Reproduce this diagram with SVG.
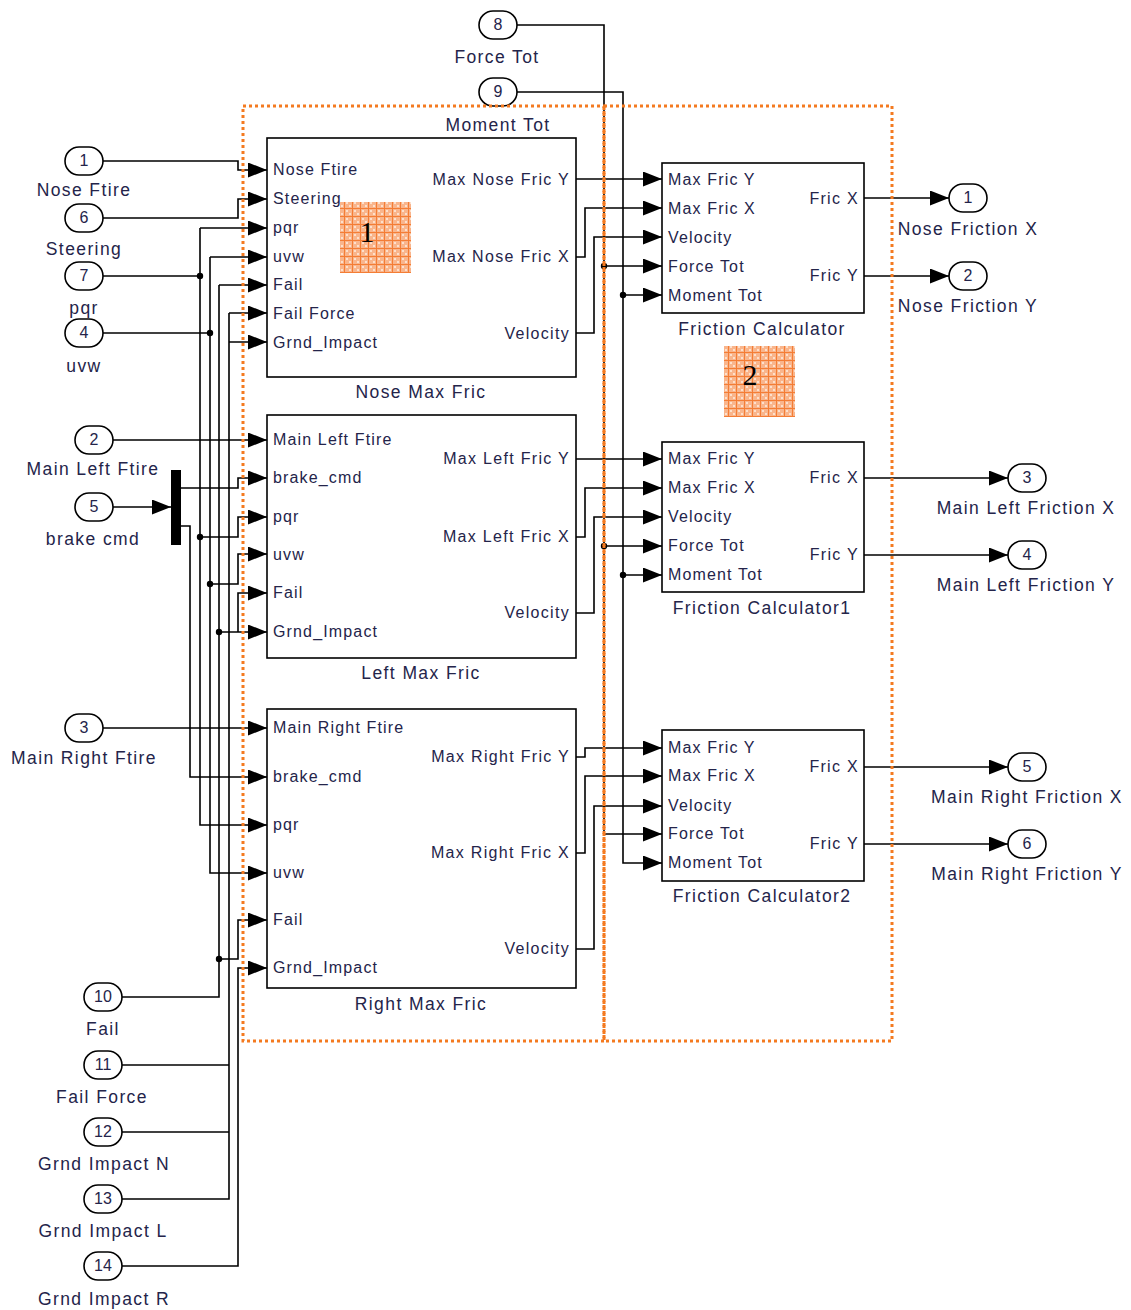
<svg xmlns="http://www.w3.org/2000/svg" width="1131" height="1310" viewBox="0 0 1131 1310">
<defs>
<marker id="arr" markerUnits="userSpaceOnUse" markerWidth="19" markerHeight="15" refX="19" refY="7.5" orient="auto">
<path d="M0,0 L19,7.5 L0,15 z" fill="#000"/>
</marker>
<pattern id="hatch" patternUnits="userSpaceOnUse" width="8" height="8">
<rect width="8" height="8" fill="#f9b58c"/>
<rect x="2" y="2" width="2" height="2" fill="#fde0cc"/>
<rect x="5" y="5" width="2" height="2" fill="#fde0cc"/>
<path d="M0,0.5 H8 M0.5,0 V8" stroke="#f47d35" stroke-width="1"/>
</pattern>
<style>
.w{fill:none;stroke:#000;stroke-width:1.6}
.a{marker-end:url(#arr)}
.blk{fill:#fff;stroke:#000;stroke-width:1.6}
.port{fill:#fff;stroke:#000;stroke-width:1.6}
.dot{fill:#000}
text{font-family:"Liberation Sans",Arial,sans-serif;fill:#24244a}
.lbl{font-size:17.5px;letter-spacing:1.4px;text-anchor:middle}
.in{font-size:16px;letter-spacing:1.15px}
.out{font-size:16px;letter-spacing:1.3px;text-anchor:end}
.num{font-size:16px;text-anchor:middle}
.big{font-family:"Liberation Serif","Times New Roman",serif;font-size:30px;text-anchor:middle;fill:#000}
.dash{fill:none;stroke:#f47a20;stroke-width:3;stroke-dasharray:3 3}
</style>
</defs>
<rect width="1131" height="1310" fill="#fff"/>

<g id="connectors">
<path class="w a" d="M103,161 H238 V170 H267"/>
<path class="w a" d="M103,218 H238 V199 H267"/>
<path class="w a" d="M200,228 H267"/>
<path class="w a" d="M210,257 H267"/>
<path class="w a" d="M219,285 H267"/>
<path class="w a" d="M229,313 H267"/>
<path class="w a" d="M229,342 H267"/>
<path class="w" d="M103,276 H200"/>
<path class="w" d="M103,333 H210"/>
<path class="w a" d="M200,228 V825 H267"/>
<path class="w a" d="M210,257 V873 H267"/>
<path class="w" d="M122,997 H219 V285"/>
<path class="w" d="M122,1199 H229 V313"/>
<path class="w" d="M122,1065 H229"/>
<path class="w" d="M122,1132 H229"/>
<path class="w a" d="M122,1266 H238 V968 H267"/>
<path class="w a" d="M113,440 H267"/>
<path class="w a" d="M113,507 H171"/>
<path class="w a" d="M181,488 H238 V478 H267"/>
<path class="w a" d="M181,526 H190 V777 H267"/>
<path class="w a" d="M200,537 H238 V517 H267"/>
<path class="w a" d="M210,584 H238 V554 H267"/>
<path class="w a" d="M219,632 H267"/>
<path class="w a" d="M238,632 V593 H267"/>
<path class="w a" d="M103,728 H267"/>
<path class="w a" d="M219,959 H238 V920 H267"/>
<path class="w a" d="M576,179 H662"/>
<path class="w a" d="M576,257 H585 V208 H662"/>
<path class="w a" d="M576,333 H594 V237 H662"/>
<path class="w a" d="M576,459 H662"/>
<path class="w a" d="M576,537 H585 V488 H662"/>
<path class="w a" d="M576,613 H594 V517 H662"/>
<path class="w a" d="M576,757 H585 V748 H662"/>
<path class="w a" d="M576,853 H585 V776 H662"/>
<path class="w a" d="M576,949 H594 V806 H662"/>
<path class="w a" d="M517,25 H604 V834 H662"/>
<path class="w a" d="M604,266 H662"/>
<path class="w a" d="M604,546 H662"/>
<path class="w a" d="M517,92 H623 V863 H662"/>
<path class="w a" d="M623,295 H662"/>
<path class="w a" d="M623,575 H662"/>
<path class="w a" d="M864,198 H949"/>
<path class="w a" d="M864,276 H949"/>
<path class="w a" d="M864,478 H1008"/>
<path class="w a" d="M864,555 H1008"/>
<path class="w a" d="M864,767 H1008"/>
<path class="w a" d="M864,844 H1008"/>
<circle class="dot" cx="200" cy="276" r="3.2"/>
<circle class="dot" cx="210" cy="333" r="3.2"/>
<circle class="dot" cx="200" cy="537" r="3.2"/>
<circle class="dot" cx="210" cy="584" r="3.2"/>
<circle class="dot" cx="219" cy="632" r="3.2"/>
<circle class="dot" cx="219" cy="959" r="3.2"/>
<circle class="dot" cx="604" cy="266" r="3.2"/>
<circle class="dot" cx="604" cy="546" r="3.2"/>
<circle class="dot" cx="623" cy="295" r="3.2"/>
<circle class="dot" cx="623" cy="575" r="3.2"/>
</g>

<g id="in1"><rect class="port" x="65" y="147" width="38" height="28" rx="14"/><text class="num" x="84" y="166">1</text><text class="lbl" x="84" y="196">Nose Ftire</text></g>
<g id="in6"><rect class="port" x="65" y="204" width="38" height="28" rx="14"/><text class="num" x="84" y="223">6</text><text class="lbl" x="84" y="255">Steering</text></g>
<g id="in7"><rect class="port" x="65" y="262" width="38" height="28" rx="14"/><text class="num" x="84" y="281">7</text><text class="lbl" x="84" y="314">pqr</text></g>
<g id="in4"><rect class="port" x="65" y="319" width="38" height="28" rx="14"/><text class="num" x="84" y="338">4</text><text class="lbl" x="84" y="372">uvw</text></g>
<g id="in2"><rect class="port" x="75" y="426" width="38" height="28" rx="14"/><text class="num" x="94" y="445">2</text><text class="lbl" x="93" y="475">Main Left Ftire</text></g>
<g id="in5"><rect class="port" x="75" y="493" width="38" height="28" rx="14"/><text class="num" x="94" y="512">5</text><text class="lbl" x="93" y="545">brake cmd</text></g>
<g id="mux"><rect x="171" y="470" width="10" height="75" fill="#000"/></g>
<g id="in3"><rect class="port" x="65" y="714" width="38" height="28" rx="14"/><text class="num" x="84" y="733">3</text><text class="lbl" x="84" y="764">Main Right Ftire</text></g>
<g id="in10"><rect class="port" x="84" y="983" width="38" height="28" rx="14"/><text class="num" x="103" y="1002">10</text><text class="lbl" x="103" y="1035">Fail</text></g>
<g id="in11"><rect class="port" x="84" y="1051" width="38" height="28" rx="14"/><text class="num" x="103" y="1070">11</text><text class="lbl" x="102" y="1103">Fail Force</text></g>
<g id="in12"><rect class="port" x="84" y="1118" width="38" height="28" rx="14"/><text class="num" x="103" y="1137">12</text><text class="lbl" x="104" y="1170">Grnd Impact N</text></g>
<g id="in13"><rect class="port" x="84" y="1185" width="38" height="28" rx="14"/><text class="num" x="103" y="1204">13</text><text class="lbl" x="103" y="1237">Grnd Impact L</text></g>
<g id="in14"><rect class="port" x="84" y="1252" width="38" height="28" rx="14"/><text class="num" x="103" y="1271">14</text><text class="lbl" x="104" y="1305">Grnd Impact R</text></g>
<g id="in8"><rect class="port" x="479" y="11" width="38" height="28" rx="14"/><text class="num" x="498" y="30">8</text><text class="lbl" x="497" y="63">Force Tot</text></g>
<g id="in9"><rect class="port" x="479" y="78" width="38" height="28" rx="14"/><text class="num" x="498" y="97">9</text><text class="lbl" x="498" y="131">Moment Tot</text></g>

<g id="noseMaxFric">
<rect class="blk" x="267" y="138" width="309" height="239"/>
<text class="in" x="273" y="175">Nose Ftire</text>
<text class="in" x="273" y="204">Steering</text>
<text class="in" x="273" y="233">pqr</text>
<text class="in" x="273" y="262">uvw</text>
<text class="in" x="273" y="290">Fail</text>
<text class="in" x="273" y="319">Fail Force</text>
<text class="in" x="273" y="348">Grnd_Impact</text>
<text class="out" x="570" y="185">Max Nose Fric Y</text>
<text class="out" x="570" y="262">Max Nose Fric X</text>
<text class="out" x="570" y="339">Velocity</text>
<text class="lbl" x="421" y="398">Nose Max Fric</text>
</g>
<g id="leftMaxFric">
<rect class="blk" x="267" y="415" width="309" height="243"/>
<text class="in" x="273" y="445">Main Left Ftire</text>
<text class="in" x="273" y="483">brake_cmd</text>
<text class="in" x="273" y="522">pqr</text>
<text class="in" x="273" y="560">uvw</text>
<text class="in" x="273" y="598">Fail</text>
<text class="in" x="273" y="637">Grnd_Impact</text>
<text class="out" x="570" y="464">Max Left Fric Y</text>
<text class="out" x="570" y="542">Max Left Fric X</text>
<text class="out" x="570" y="618">Velocity</text>
<text class="lbl" x="421" y="679">Left Max Fric</text>
</g>
<g id="rightMaxFric">
<rect class="blk" x="267" y="709" width="309" height="279"/>
<text class="in" x="273" y="733">Main Right Ftire</text>
<text class="in" x="273" y="782">brake_cmd</text>
<text class="in" x="273" y="830">pqr</text>
<text class="in" x="273" y="878">uvw</text>
<text class="in" x="273" y="925">Fail</text>
<text class="in" x="273" y="973">Grnd_Impact</text>
<text class="out" x="570" y="762">Max Right Fric Y</text>
<text class="out" x="570" y="858">Max Right Fric X</text>
<text class="out" x="570" y="954">Velocity</text>
<text class="lbl" x="421" y="1010">Right Max Fric</text>
</g>

<g id="fricCalc">
<rect class="blk" x="662" y="163" width="202" height="150"/>
<text class="in" x="668" y="185">Max Fric Y</text>
<text class="in" x="668" y="214">Max Fric X</text>
<text class="in" x="668" y="243">Velocity</text>
<text class="in" x="668" y="272">Force Tot</text>
<text class="in" x="668" y="301">Moment Tot</text>
<text class="out" x="859" y="204">Fric X</text>
<text class="out" x="859" y="281">Fric Y</text>
<text class="lbl" x="762" y="335">Friction Calculator</text>
</g>
<g id="fricCalc1">
<rect class="blk" x="662" y="442" width="202" height="150"/>
<text class="in" x="668" y="464">Max Fric Y</text>
<text class="in" x="668" y="493">Max Fric X</text>
<text class="in" x="668" y="522">Velocity</text>
<text class="in" x="668" y="551">Force Tot</text>
<text class="in" x="668" y="580">Moment Tot</text>
<text class="out" x="859" y="483">Fric X</text>
<text class="out" x="859" y="560">Fric Y</text>
<text class="lbl" x="762" y="614">Friction Calculator1</text>
</g>
<g id="fricCalc2">
<rect class="blk" x="662" y="730" width="202" height="151"/>
<text class="in" x="668" y="753">Max Fric Y</text>
<text class="in" x="668" y="781">Max Fric X</text>
<text class="in" x="668" y="811">Velocity</text>
<text class="in" x="668" y="839">Force Tot</text>
<text class="in" x="668" y="868">Moment Tot</text>
<text class="out" x="859" y="772">Fric X</text>
<text class="out" x="859" y="849">Fric Y</text>
<text class="lbl" x="762" y="902">Friction Calculator2</text>
</g>

<g id="out1"><rect class="port" x="949" y="184" width="38" height="28" rx="14"/><text class="num" x="968" y="203">1</text><text class="lbl" x="968" y="235">Nose Friction X</text></g>
<g id="out2"><rect class="port" x="949" y="262" width="38" height="28" rx="14"/><text class="num" x="968" y="281">2</text><text class="lbl" x="968" y="312">Nose Friction Y</text></g>
<g id="out3"><rect class="port" x="1008" y="464" width="38" height="28" rx="14"/><text class="num" x="1027" y="483">3</text><text class="lbl" x="1026" y="514">Main Left Friction X</text></g>
<g id="out4"><rect class="port" x="1008" y="541" width="38" height="28" rx="14"/><text class="num" x="1027" y="560">4</text><text class="lbl" x="1026" y="591">Main Left Friction Y</text></g>
<g id="out5"><rect class="port" x="1008" y="753" width="38" height="28" rx="14"/><text class="num" x="1027" y="772">5</text><text class="lbl" x="1027" y="803">Main Right Friction X</text></g>
<g id="out6"><rect class="port" x="1008" y="830" width="38" height="28" rx="14"/><text class="num" x="1027" y="849">6</text><text class="lbl" x="1027" y="880">Main Right Friction Y</text></g>

<g id="area1">
<rect class="dash" x="243" y="106" width="361" height="935"/>
<rect x="340" y="202" width="71" height="71" fill="url(#hatch)"/>
<text class="big" x="367" y="242">1</text>
</g>
<g id="area2">
<rect class="dash" x="604" y="106" width="288" height="935"/>
<rect x="724" y="346" width="71" height="71" fill="url(#hatch)"/>
<text class="big" x="750" y="385">2</text>
</g>
</svg>
